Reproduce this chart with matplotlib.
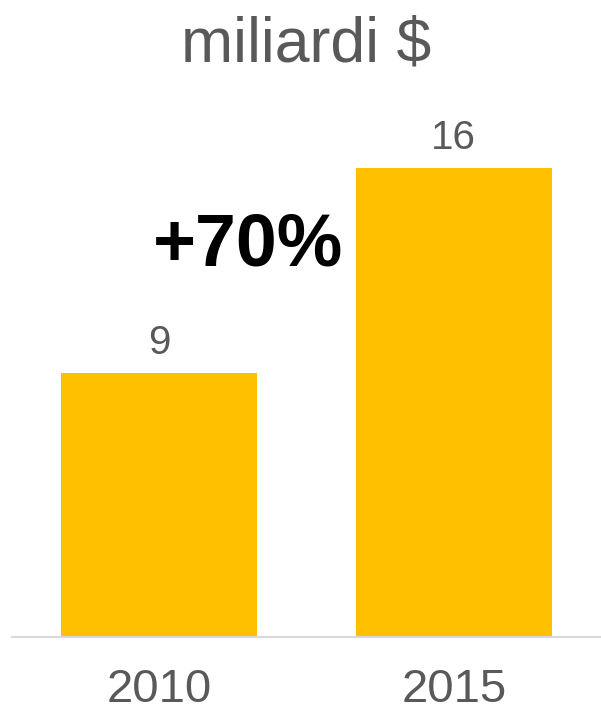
import matplotlib.pyplot as plt

plt.rcParams['font.family'] = ['Liberation Sans', 'DejaVu Sans']

years = ['2010', '2015']
values = [9, 16]
growth_label = '+70%'
title = 'miliardi $'

BAR_COLOR = '#FFC000'
TEXT_GRAY = '#595959'

fig = plt.figure(figsize=(6.01, 7.14), dpi=100)
# axes spans from the baseline up to the top edge of the figure
ax = fig.add_axes([12 / 601, 77 / 714, 589 / 601, 637 / 714])

x = range(len(years))
bars = ax.bar(x, values, width=0.665, color=BAR_COLOR, zorder=2)

ax.set_xlim(-0.5, 1.5)
ax.set_ylim(0, 637 / 29.3)

for rect, v in zip(bars, values):
    ax.annotate(f'{v}', xy=(rect.get_x() + rect.get_width() / 2, v),
                xytext=(0, 14), textcoords='offset points',
                ha='center', va='baseline', fontsize=29, color=TEXT_GRAY)

ax.set_xticks(list(x))
ax.set_xticklabels(years, fontsize=34, color=TEXT_GRAY)
ax.tick_params(axis='x', length=0, pad=22)
ax.set_yticks([])

for side in ['top', 'right', 'left']:
    ax.spines[side].set_visible(False)
ax.spines['bottom'].set_color('#D9D9D9')
ax.spines['bottom'].set_linewidth(1.5)

fig.text(306 / 601, 1 - 62 / 714, title, ha='center', va='baseline',
         fontsize=45, color=TEXT_GRAY)
fig.text(248 / 601, 1 - 266 / 714, growth_label, ha='center', va='baseline',
         fontsize=53, fontweight='bold', color='black')

fig.savefig('out.png', dpi=100, facecolor='white')
